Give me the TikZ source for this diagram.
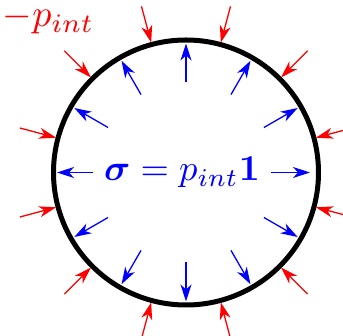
\documentclass[tikz,border=0pt]{standalone}
\usepackage{amsmath,bm}
\usetikzlibrary{arrows.meta}
\tikzset{
  arr/.style={-{Stealth[length=17pt,width=11pt,inset=5pt]}, line width=1.3pt},
  inarr/.style={arr, blue},
  outarr/.style={arr, red},
  big/.style={inner sep=0pt}
}
\newcommand{\bigtext}[2]{\scalebox{#1}{#2}}
\begin{document}
\begin{tikzpicture}[x=1pt,y=1pt]
\useasboundingbox (-186,-163.5) rectangle (157,172.5);
\clip (-186,-163.5) rectangle (157,172.5);
\node[draw, circle, line width=5pt, minimum size=265pt, inner sep=0pt] (c) at (0,0) {};
\foreach \a in {30,60,...,150,210,240,...,330}{
  \coordinate (bi\a) at (\a:90);
  \coordinate (bo\a) at (\a:129);
  \draw[inarr] (bi\a) -- (bo\a);
}
\coordinate (bi0) at (0:85);
\coordinate (bo0) at (0:124);
\draw[inarr, line width=1pt] (bi0) -- (bo0);
\coordinate (bi180) at (180:93);
\coordinate (bo180) at (180:129);
\draw[inarr] (bi180) -- (bo180);
\foreach \a in {15,45,...,345}{
  \coordinate (ro\a) at (\a:172);
  \coordinate (ri\a) at (\a:134.5);
  \draw[outarr] (ro\a) -- (ri\a);
}
\node[big, blue, anchor=base] (sig) at (-4,-8.5) {\bigtext{3.65}{$\bm{\sigma} = p_{int}\mathbf{1}$}};
\node[big, red, anchor=base] (p) at (-137.5,145.5) {\bigtext{3.8}{$-p_{int}$}};
\end{tikzpicture}
\end{document}
